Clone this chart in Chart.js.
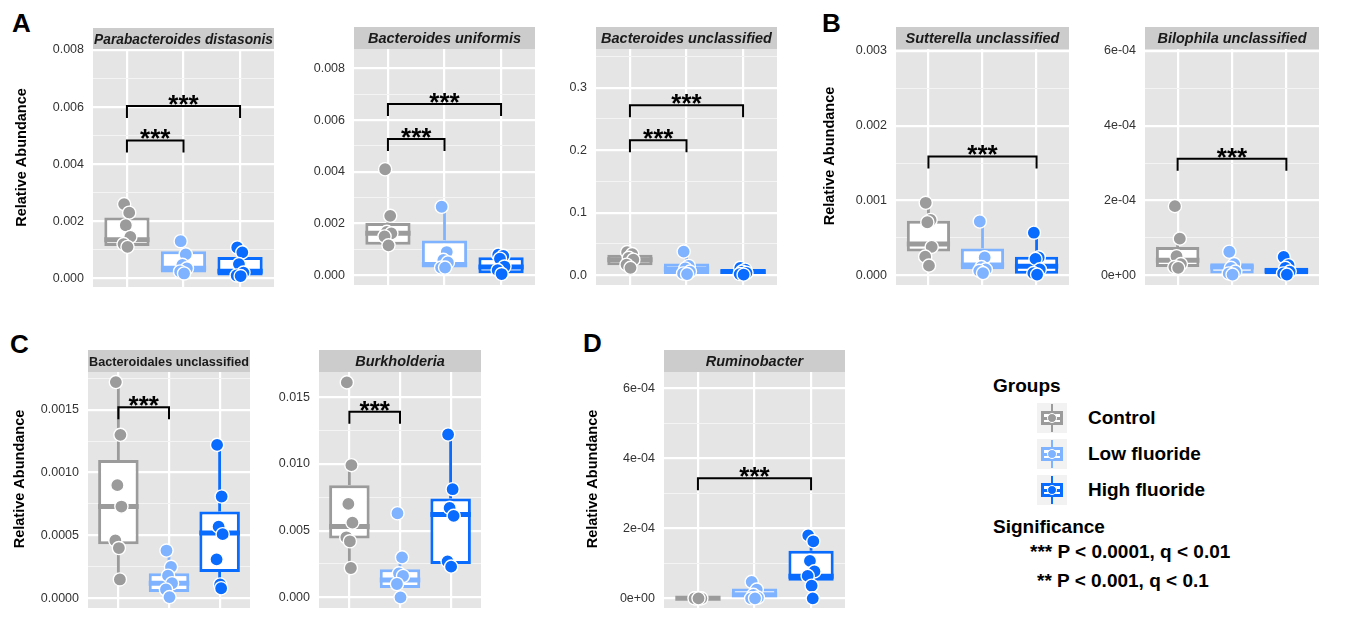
<!DOCTYPE html>
<html lang="en">
<head>
<meta charset="utf-8">
<title>Relative Abundance</title>
<script src="https://cdn.jsdelivr.net/npm/chart.js@4.4.1/dist/chart.umd.min.js"></script>
<style>
  html, body { margin: 0; padding: 0; background: #fff; }
  body { font-family: "Liberation Sans", Arial, Helvetica, sans-serif; }
  #figura { position: relative; width: 1354px; height: 617px; overflow: hidden; }
  #figura canvas { position: absolute; }
  .letra { position: absolute; font-size: 26px; line-height: 26px; font-weight: bold; color: #000; }
  .texto { position: absolute; font-size: 19px; line-height: 19px; font-weight: bold; color: #000; white-space: nowrap; }
  .icono { position: absolute; left: 1037px; width: 30px; height: 30px; background: #f2f2f2; }
  .icono div { position: absolute; }
  .icono .bigote { left: 13.75px; top: 1px; width: 2.5px; height: 28px; }
  .icono .caja { left: 4px; top: 8px; width: 22px; height: 14px; box-sizing: border-box; border: 3px solid; background: #fff; }
  .icono .mediana { left: 4px; top: 13.5px; width: 22px; height: 3px; }
  .icono .punto { left: 10px; top: 10px; width: 10px; height: 10px; border-radius: 50%; box-sizing: border-box; border: 1px solid #fff; }
</style>
</head>
<body>
<div id="figura">
  <div class="letra" style="left:12px;top:10px">A</div>
  <div class="letra" style="left:822px;top:10px">B</div>
  <div class="letra" style="left:10px;top:331px">C</div>
  <div class="letra" style="left:583px;top:330px">D</div>

  <div class="texto" style="left:993px;top:376px">Groups</div>
  <div class="texto" style="left:993px;top:517px">Significance</div>
  <div class="texto" style="left:1030px;top:542px">*** P &lt; 0.0001, q &lt; 0.01</div>
  <div class="texto" style="left:1037px;top:571px">** P &lt; 0.001, q &lt; 0.1</div>
</div>

<script>
// Grupos (categorías) y sus colores
const grupos = ['Control', 'Low fluoride', 'High fluoride'];
const coloresGrupo = ['#9b9b9b', '#80b3ff', '#0a6cff'];

// Cada caja: [mínimo bigote, Q1, mediana, Q3, máximo bigote]
// Cada marca de significancia: [grupo inicio, grupo fin, altura]

// Parabacteroides distasonis
const distasonisPuntos = [
    [0.0026, 0.0023, 0.00186, 0.00145, 0.0012, 0.0011],
    [0.0013, 0.00084, 0.00047, 0.00035, 0.00024, 0.00017],
    [0.00108, 0.00091, 0.0005, 0.0002, 0.0001, 0.00008]
];
const distasonisCajas = [
    [0.0011, 0.00113, 0.00135, 0.00213, 0.0026],
    [0.00017, 0.0002, 0.00035, 0.00095, 0.0013],
    [0.00008, 0.0001, 0.00025, 0.00075, 0.00108]
];
const distasonisSig = [[0, 1, 0.00483], [0, 2, 0.00604]];
const distasonisTicks = [0, 0.002, 0.004, 0.006, 0.008];
const distasonisEtiquetas = ['0.000', '0.002', '0.004', '0.006', '0.008'];

// Bacteroides uniformis
const uniformisPuntos = [
    [0.0041, 0.0023, 0.00168, 0.00162, 0.0015, 0.00116],
    [0.00265, 0.0009, 0.0006, 0.0005, 0.0003, 0.0003],
    [0.0008, 0.00075, 0.00064, 0.00034, 0.0002, 0.00005]
];
const uniformisCajas = [
    [0.00116, 0.00118, 0.00163, 0.00202, 0.0023],
    [0.0003, 0.0003, 0.00042, 0.00135, 0.00265],
    [0.00005, 0.00008, 0.00032, 0.0007, 0.0008]
];
const uniformisSig = [[0, 1, 0.00527], [0, 2, 0.00662]];
const uniformisTicks = [0, 0.002, 0.004, 0.006, 0.008];
const uniformisEtiquetas = ['0.000', '0.002', '0.004', '0.006', '0.008'];

// Bacteroides unclassified
const bacteroidesPuntos = [
    [0.037, 0.034, 0.028, 0.025, 0.017, 0.012],
    [0.038, 0.015, 0.011, 0.006, 0.003, 0.002],
    [0.012, 0.009, 0.006, 0.004, 0.002, 0.001]
];
const bacteroidesCajas = [
    [0.012, 0.016, 0.025, 0.033, 0.037],
    [0.002, 0.002, 0.01, 0.019, 0.038],
    [0.001, 0.002, 0.006, 0.009, 0.012]
];
const bacteroidesSig = [[0, 1, 0.216], [0, 2, 0.272]];
const bacteroidesTicks = [0, 0.1, 0.2, 0.3];
const bacteroidesEtiquetas = ['0.0', '0.1', '0.2', '0.3'];

// Sutterella unclassified
const sutterellaPuntos = [
    [0.00097, 0.00074, 0.00071, 0.00038, 0.00025, 0.00013],
    [0.00072, 0.00024, 0.00011, 0.00008, 0.00006, 0.00003],
    [0.00057, 0.00024, 0.00022, 0.00008, 0.00003, 0.00001]
];
const sutterellaCajas = [
    [0.00013, 0.00032, 0.00042, 0.00073, 0.00097],
    [0.00003, 0.00008, 0.00014, 0.00036, 0.00072],
    [0.00001, 0.00002, 0.00012, 0.00025, 0.00057]
];
const sutterellaSig = [[0, 2, 0.00159]];
const sutterellaTicks = [0, 0.001, 0.002, 0.003];
const sutterellaEtiquetas = ['0.000', '0.001', '0.002', '0.003'];

// Bilophila unclassified
const bilophilaPuntos = [
    [0.000185, 0.000098, 0.000051, 0.00003, 0.000022, 0.00002],
    [0.000063, 0.00003, 0.00002, 0.00001, 0.000005, 0.000002],
    [0.000049, 0.000027, 0.00002, 0.00001, 0.000005, 0.000002]
];
const bilophilaCajas = [
    [0.00002, 0.000022, 0.00004, 0.000076, 0.000098],
    [0.000002, 0.000005, 0.000022, 0.000032, 0.000063],
    [0.000002, 0.000003, 0.000012, 0.00002, 0.000049]
];
const bilophilaSig = [[0, 2, 0.000312]];
const bilophilaTicks = [0, 0.0002, 0.0004, 0.0006];
const bilophilaEtiquetas = ['0e+00', '2e-04', '4e-04', '6e-04'];

// Bacteroidales unclassified
const bacteroidalesPuntos = [
    [0.00172, 0.0013, 0.0009, 0.00073, 0.00046, 0.0004, 0.00015],
    [0.00038, 0.00025, 0.00018, 0.00012, 0.00007, 0.00001],
    [0.00122, 0.00081, 0.00057, 0.00051, 0.00031, 0.00011, 0.00008]
];
const bacteroidalesCajas = [
    [0.00015, 0.00043, 0.00073, 0.0011, 0.00172],
    [0.00001, 0.00005, 0.00012, 0.0002, 0.00038],
    [0.00008, 0.00021, 0.00052, 0.00069, 0.00122]
];
const bacteroidalesSig = [[0, 1, 0.00152]];
const bacteroidalesTicks = [0, 0.0005, 0.001, 0.0015];
const bacteroidalesEtiquetas = ['0.0000', '0.0005', '0.0010', '0.0015'];

// Burkholderia
const burkholderiaPuntos = [
    [0.0161, 0.0099, 0.007, 0.0056, 0.0045, 0.0042, 0.0022],
    [0.0063, 0.003, 0.0018, 0.0016, 0.001, 0.0],
    [0.0122, 0.0081, 0.0067, 0.0061, 0.0027, 0.0023]
];
const burkholderiaCajas = [
    [0.0022, 0.0044, 0.0053, 0.0084, 0.0099],
    [0.0, 0.0007, 0.0013, 0.0021, 0.003],
    [0.0023, 0.0025, 0.0062, 0.0074, 0.0122]
];
const burkholderiaSig = [[0, 1, 0.0139]];
const burkholderiaTicks = [0, 0.005, 0.01, 0.015];
const burkholderiaEtiquetas = ['0.000', '0.005', '0.010', '0.015'];

// Ruminobacter
const ruminobacterPuntos = [
    [0, 0, 0, 0, 0, 0],
    [0.000047, 0.000025, 0.00001, 0.000002, 0, 0],
    [0.00018, 0.000163, 0.000107, 0.000077, 0.000064, 0.000036, 0]
];
const ruminobacterCajas = [
    [0, 0, 0, 0, 0],
    [0, 0, 0.00001, 0.000028, 0.000047],
    [0, 0.00005, 0.000063, 0.000136, 0.00018]
];
const ruminobacterSig = [[0, 2, 0.000343]];
const ruminobacterTicks = [0, 0.0002, 0.0004, 0.0006];
const ruminobacterEtiquetas = ['0e+00', '2e-04', '4e-04', '6e-04'];

// Desplazamiento horizontal fijo de los puntos (en unidades de categoría)
const desplazamientos = [-0.05, 0.04, -0.02, 0.06, -0.06, 0.01, 0.03];

// Ubicación de cada panel en la figura (área de datos) y rango del eje y
const paneles = [
    { titulo: 'Parabacteroides distasonis', cursiva: true, puntos: distasonisPuntos, cajas: distasonisCajas, sig: distasonisSig, ticks: distasonisTicks, etiquetas: distasonisEtiquetas, min: -0.000304, max: 0.008, izq: 93, arr: 50, der: 282, abajo: 295, tituloX: 22 },
    { titulo: 'Bacteroides uniformis', cursiva: true, puntos: uniformisPuntos, cajas: uniformisCajas, sig: uniformisSig, ticks: uniformisTicks, etiquetas: uniformisEtiquetas, min: -0.000374, max: 0.008748, izq: 354, arr: 49, der: 543, abajo: 293, tituloX: null },
    { titulo: 'Bacteroides unclassified', cursiva: true, puntos: bacteroidesPuntos, cajas: bacteroidesCajas, sig: bacteroidesSig, ticks: bacteroidesTicks, etiquetas: bacteroidesEtiquetas, min: -0.01546, max: 0.3617, izq: 596, arr: 49, der: 785, abajo: 293, tituloX: null },
    { titulo: 'Sutterella unclassified', cursiva: true, puntos: sutterellaPuntos, cajas: sutterellaCajas, sig: sutterellaSig, ticks: sutterellaTicks, etiquetas: sutterellaEtiquetas, min: -0.000129, max: 0.003026, izq: 896, arr: 49, der: 1077, abajo: 293, tituloX: 830 },
    { titulo: 'Bilophila unclassified', cursiva: true, puntos: bilophilaPuntos, cajas: bilophilaCajas, sig: bilophilaSig, ticks: bilophilaTicks, etiquetas: bilophilaEtiquetas, min: -0.0000259, max: 0.0006052, izq: 1145, arr: 49, der: 1327, abajo: 293, tituloX: null },
    { titulo: 'Bacteroidales unclassified', cursiva: false, puntos: bacteroidalesPuntos, cajas: bacteroidalesCajas, sig: bacteroidalesSig, ticks: bacteroidalesTicks, etiquetas: bacteroidalesEtiquetas, min: -0.000077, max: 0.0018, izq: 88, arr: 372, der: 258, abajo: 616, tituloX: 20 },
    { titulo: 'Burkholderia', cursiva: true, puntos: burkholderiaPuntos, cajas: burkholderiaCajas, sig: burkholderiaSig, ticks: burkholderiaTicks, etiquetas: burkholderiaEtiquetas, min: -0.000797, max: 0.01688, izq: 319, arr: 372, der: 489, abajo: 616, tituloX: null },
    { titulo: 'Ruminobacter', cursiva: true, puntos: ruminobacterPuntos, cajas: ruminobacterCajas, sig: ruminobacterSig, ticks: ruminobacterTicks, etiquetas: ruminobacterEtiquetas, min: -0.0000277, max: 0.000647, izq: 664, arr: 372, der: 853, abajo: 616, tituloX: 593 }
];

const fuente = '"Liberation Sans", Arial, Helvetica, sans-serif';
Chart.defaults.font.family = fuente;

const altoTira = 22;   // alto de la franja del título
const margenEje = 80;  // espacio a la izquierda del área de datos
const pata = 12;       // largo de las patas de los corchetes

// Plugin con fondo, franja, cajas (bigotes y mediana), corchetes y título del eje
const crearDecoracion = (p) => ({
    id: 'decoracion',
    beforeDraw(chart) {
        const { ctx, chartArea: a } = chart;
        const anchoTira = a.right - a.left;
        ctx.save();
        ctx.fillStyle = '#e5e5e5';
        ctx.fillRect(a.left, a.top, anchoTira, a.bottom - a.top);
        ctx.fillStyle = '#cccccc';
        ctx.fillRect(a.left, a.top - altoTira, anchoTira, altoTira);
        // El título se achica si no cabe en la franja
        const estilo = p.cursiva ? 'italic bold ' : 'bold ';
        let tam = 14.5;
        ctx.font = estilo + tam + 'px ' + fuente;
        const medida = ctx.measureText(p.titulo).width;
        if (medida > anchoTira - 2) {
            tam = tam * (anchoTira - 2) / medida;
            ctx.font = estilo + tam.toFixed(2) + 'px ' + fuente;
        }
        ctx.fillStyle = '#1a1a1a';
        ctx.textAlign = 'center';
        ctx.textBaseline = 'middle';
        ctx.fillText(p.titulo, (a.left + a.right) / 2, a.top - altoTira / 2 + 1);
        ctx.restore();
    },
    afterDatasetDraw(chart, args) {
        if (args.index !== 0) return;
        const { ctx, scales: { y } } = chart;
        const barras = chart.getDatasetMeta(0).data;
        p.cajas.forEach((c, g) => {
            const barra = barras[g];
            ctx.save();
            ctx.strokeStyle = coloresGrupo[g];
            ctx.lineWidth = 2.8;
            ctx.beginPath();
            ctx.moveTo(barra.x, y.getPixelForValue(c[3]));
            ctx.lineTo(barra.x, y.getPixelForValue(c[4]));
            ctx.moveTo(barra.x, y.getPixelForValue(c[0]));
            ctx.lineTo(barra.x, y.getPixelForValue(c[1]));
            ctx.stroke();
            const ym = y.getPixelForValue(c[2]);
            ctx.lineWidth = 5;
            ctx.beginPath();
            ctx.moveTo(barra.x - barra.width / 2, ym);
            ctx.lineTo(barra.x + barra.width / 2, ym);
            ctx.stroke();
            ctx.restore();
        });
    },
    afterDatasetsDraw(chart) {
        const { ctx, scales: { x, y } } = chart;
        ctx.save();
        ctx.strokeStyle = '#000';
        ctx.fillStyle = '#000';
        ctx.lineWidth = 2;
        ctx.font = 'bold 26px ' + fuente;
        ctx.textAlign = 'center';
        ctx.textBaseline = 'alphabetic';
        p.sig.forEach(([a, b, v]) => {
            const x1 = x.getPixelForValue(a);
            const x2 = x.getPixelForValue(b);
            const yy = y.getPixelForValue(v);
            ctx.beginPath();
            ctx.moveTo(x1, yy + pata);
            ctx.lineTo(x1, yy);
            ctx.lineTo(x2, yy);
            ctx.lineTo(x2, yy + pata);
            ctx.stroke();
            ctx.fillText('***', (x1 + x2) / 2, yy + 7);
        });
        ctx.restore();
    },
    afterDraw(chart) {
        if (p.tituloX === null) return;
        const { ctx, chartArea: a } = chart;
        ctx.save();
        ctx.translate(p.tituloX - (p.izq - margenEje), (a.top - altoTira + a.bottom) / 2);
        ctx.rotate(-Math.PI / 2);
        ctx.fillStyle = '#000';
        ctx.font = 'bold 14.5px ' + fuente;
        ctx.textAlign = 'center';
        ctx.textBaseline = 'middle';
        ctx.fillText('Relative Abundance', 0, 0);
        ctx.restore();
    }
});

// Crear cada panel
const crearPanel = (p) => {
    const ancho = margenEje + (p.der - p.izq);
    const alto = altoTira + (p.abajo - p.arr);
    const lienzo = document.createElement('canvas');
    lienzo.width = ancho;
    lienzo.height = alto;
    lienzo.style.left = (p.izq - margenEje) + 'px';
    lienzo.style.top = (p.arr - altoTira) + 'px';
    lienzo.style.width = ancho + 'px';
    lienzo.style.height = alto + 'px';
    document.getElementById('figura').appendChild(lienzo);

    // Líneas menores a mitad de camino entre las marcas
    const paso = p.ticks[1] - p.ticks[0];
    const menores = [];
    for (let i = 0; i < p.ticks.length - 1; i++) menores.push((p.ticks[i] + p.ticks[i + 1]) / 2);
    const extra = p.ticks[p.ticks.length - 1] + paso / 2;
    if (extra <= p.max) menores.push(extra);
    const todas = [...p.ticks, ...menores].sort((a, b) => a - b);
    const indiceMayor = (v) => p.ticks.findIndex((t) => Math.abs(t - v) < paso * 1e-6);

    const datasets = [{
        type: 'bar',
        data: p.cajas.map((c, g) => ({ x: g, y: [c[1], c[3]] })),
        backgroundColor: '#ffffff',
        borderColor: coloresGrupo,
        borderWidth: 3,
        borderSkipped: false,
        categoryPercentage: 0.8,
        barPercentage: 1,
        order: 3
    }];
    p.puntos.forEach((serie, g) => {
        datasets.push({
            type: 'scatter',
            data: serie.map((v, k) => ({ x: g + desplazamientos[k % desplazamientos.length], y: v })),
            pointRadius: 6.6,
            pointBackgroundColor: coloresGrupo[g],
            pointBorderColor: '#ffffff',
            pointBorderWidth: 1.4,
            order: 1
        });
    });

    new Chart(lienzo, {
        type: 'bar',
        data: { datasets },
        options: {
            responsive: false,
            animation: false,
            devicePixelRatio: 1,
            events: [],
            layout: { padding: { top: altoTira, left: 0, right: 0, bottom: 0 } },
            plugins: { legend: { display: false }, tooltip: { enabled: false } },
            scales: {
                x: {
                    type: 'linear',
                    min: -0.6,
                    max: 2.6,
                    offset: false,
                    afterBuildTicks: (eje) => { eje.ticks = grupos.map((_, i) => ({ value: i })); },
                    afterFit: (eje) => { eje.height = 0; eje.paddingLeft = 0; eje.paddingRight = 0; },
                    ticks: { display: false },
                    grid: { color: '#ffffff', lineWidth: 2.2, drawTicks: false, offset: false },
                    border: { display: false }
                },
                y: {
                    type: 'linear',
                    min: p.min,
                    max: p.max,
                    afterBuildTicks: (eje) => { eje.ticks = todas.map((v) => ({ value: v })); },
                    afterFit: (eje) => { eje.width = margenEje; eje.paddingTop = 0; eje.paddingBottom = 0; },
                    ticks: {
                        autoSkip: false,
                        padding: 9,
                        color: '#333333',
                        font: { size: 12.5 },
                        callback: (valor) => {
                            const i = indiceMayor(valor);
                            return i >= 0 ? p.etiquetas[i] : '';
                        }
                    },
                    grid: {
                        drawTicks: false,
                        color: (ctx) => (ctx.tick && indiceMayor(ctx.tick.value) >= 0) ? '#ffffff' : '#f4f4f4',
                        lineWidth: (ctx) => (ctx.tick && indiceMayor(ctx.tick.value) >= 0) ? 2.2 : 1.1
                    },
                    border: { display: false }
                }
            }
        },
        plugins: [crearDecoracion(p)]
    });
};

// Leyenda de grupos
const crearLeyenda = () => {
    const figura = document.getElementById('figura');
    grupos.forEach((nombre, g) => {
        const centro = 418 + g * 36;
        const icono = document.createElement('div');
        icono.className = 'icono';
        icono.style.top = (centro - 15) + 'px';
        const color = coloresGrupo[g];
        icono.innerHTML =
            `<div class="bigote" style="background:${color}"></div>` +
            `<div class="caja" style="border-color:${color}"></div>` +
            `<div class="mediana" style="background:${color}"></div>` +
            `<div class="punto" style="background:${color}"></div>`;
        figura.appendChild(icono);

        const texto = document.createElement('div');
        texto.className = 'texto';
        texto.style.left = '1088px';
        texto.style.top = (centro - 10) + 'px';
        texto.textContent = nombre;
        figura.appendChild(texto);
    });
};

paneles.forEach(crearPanel);
crearLeyenda();
</script>
</body>
</html>
